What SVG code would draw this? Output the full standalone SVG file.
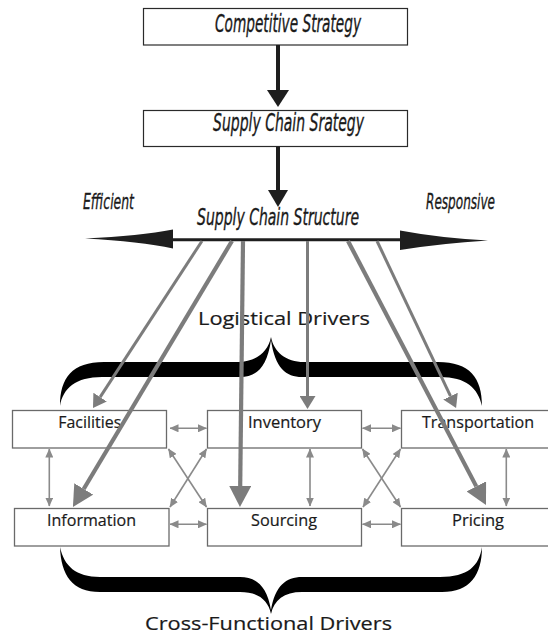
<svg xmlns="http://www.w3.org/2000/svg" width="548" height="636" viewBox="0 0 548 636">
  <defs>
    <style>
      .top-box { fill: #fff; stroke: #2a2a2a; stroke-width: 1.2; }
      .box { fill: #fff; stroke: #6a6a6a; stroke-width: 1.3; }
      .title { font-family: "Liberation Sans Narrow", "DejaVu Sans Condensed", Roboto, sans-serif; font-style: italic; font-stretch: condensed; fill: #1a1a1a; stroke: #1a1a1a; stroke-width: 0.35; }
      .label { font-family: "Open Sans", "Noto Sans", "Liberation Sans", sans-serif; fill: #1a1a1a; stroke: #1a1a1a; stroke-width: 0.2; }
      .driver { stroke: #7c7c7c; fill: none; }
      .thin { stroke-width: 3; }
      .thick { stroke-width: 4.2; }
      .link { stroke: #8a8a8a; stroke-width: 1.6; fill: none; marker-start: url(#tip); marker-end: url(#tip); }
      .brace { fill: #000; }
    </style>
    <marker id="headSmall" markerUnits="userSpaceOnUse" viewBox="0 0 13 16" refX="0" refY="8" markerWidth="13" markerHeight="16" orient="auto">
      <path d="M0,0 L13,8 L0,16 Z" fill="#7c7c7c"/>
    </marker>
    <marker id="headBig" markerUnits="userSpaceOnUse" viewBox="0 0 21 22" refX="0" refY="11" markerWidth="21" markerHeight="22" orient="auto">
      <path d="M0,0 L21,11 L0,22 Z" fill="#7c7c7c"/>
    </marker>
    <marker id="tip" markerUnits="userSpaceOnUse" viewBox="0 0 9 8" refX="8.5" refY="4" markerWidth="9" markerHeight="8" orient="auto-start-reverse">
      <path d="M0,0 L9,4 L0,8 Z" fill="#8a8a8a"/>
    </marker>
  </defs>

  <rect width="548" height="636" fill="#fff"/>

  <!-- strategy chain -->
  <g id="competitive-strategy">
    <rect class="top-box" x="143.5" y="8.5" width="264" height="36.5"/>
    <text class="title" x="215" y="32.3" font-size="24" textLength="146" lengthAdjust="spacingAndGlyphs">Competitive Strategy</text>
  </g>
  <g id="supply-chain-strategy">
    <rect class="top-box" x="143.5" y="110.5" width="264" height="36"/>
    <text class="title" x="213" y="130.5" font-size="24" textLength="151" lengthAdjust="spacingAndGlyphs">Supply Chain Srategy</text>
  </g>
  <g id="supply-chain-structure">
    <text class="title" x="197" y="224.5" font-size="23" textLength="162" lengthAdjust="spacingAndGlyphs">Supply Chain Structure</text>
    <text class="title" x="83" y="209" font-size="22" textLength="51" lengthAdjust="spacingAndGlyphs">Efficient</text>
    <text class="title" x="426" y="208.5" font-size="22" textLength="69" lengthAdjust="spacingAndGlyphs">Responsive</text>
  </g>

  <!-- braces and group captions -->
  <g id="logistical-drivers">
    <path class="brace" d="M60,406 C60,378 72,362 104,362 L238,362 C256,362 268,352 271,337 C274,352 286,362 304,362 L438,362 C470,362 482,378 482,406 C478,388 466,377 440,377 L302,377 C286,377 275,368 271,340 C267,368 256,377 240,377 L102,377 C76,377 63,388 60,406 Z"/>
    <text class="label" x="198" y="325" font-size="19" textLength="172" lengthAdjust="spacingAndGlyphs">Logistical Drivers</text>
  </g>
  <g id="cross-functional-drivers">
    <path class="brace" d="M60,547 C61,575 72,592 100,592 L240,592 C258,592 268,600 271,614 C274,600 284,592 302,592 L442,592 C470,592 482,575 482,547 C479,566 468,577 440,577 L302,577 C286,577 275,586 271,610 C267,586 256,577 240,577 L100,577 C76,577 64,566 60,547 Z"/>
    <text class="label" x="145" y="629.5" font-size="19" textLength="247" lengthAdjust="spacingAndGlyphs">Cross-Functional Drivers</text>
  </g>

  <!-- driver boxes -->
  <g id="facilities">
    <rect class="box" x="12.5" y="410.5" width="154" height="37.5"/>
    <text class="label" x="58.3" y="427.7" font-size="16.5" textLength="63" lengthAdjust="spacingAndGlyphs">Facilities</text>
  </g>
  <g id="inventory">
    <rect class="box" x="207.5" y="410.5" width="154" height="37.5"/>
    <text class="label" x="248" y="427.7" font-size="16.5" textLength="73" lengthAdjust="spacingAndGlyphs">Inventory</text>
  </g>
  <g id="transportation">
    <rect class="box" x="401.5" y="410.5" width="156" height="37.5"/>
    <text class="label" x="422" y="427.7" font-size="16.5" textLength="112" lengthAdjust="spacingAndGlyphs">Transportation</text>
  </g>
  <g id="information">
    <rect class="box" x="14.5" y="508.5" width="154.5" height="37.5"/>
    <text class="label" x="47" y="526" font-size="16.5" textLength="89" lengthAdjust="spacingAndGlyphs">Information</text>
  </g>
  <g id="sourcing">
    <rect class="box" x="207.5" y="508.5" width="154" height="37.5"/>
    <text class="label" x="251" y="526" font-size="16.5" textLength="66" lengthAdjust="spacingAndGlyphs">Sourcing</text>
  </g>
  <g id="pricing">
    <rect class="box" x="401.5" y="508.5" width="156" height="37.5"/>
    <text class="label" x="452" y="526" font-size="16.5" textLength="52" lengthAdjust="spacingAndGlyphs">Pricing</text>
  </g>

  <g id="connectors">
    <!-- strategy flow -->
    <line x1="278" y1="45" x2="278" y2="91" stroke="#1e1e1e" stroke-width="4"/>
    <polygon points="267,90 289,90 278,107" fill="#1e1e1e"/>
    <line x1="278" y1="146.5" x2="278" y2="191" stroke="#1e1e1e" stroke-width="4"/>
    <polygon points="268,190 288,190 278,207" fill="#1e1e1e"/>

    <!-- efficient / responsive spectrum -->
    <line x1="170" y1="239.7" x2="403" y2="239.7" stroke="#1e1e1e" stroke-width="3"/>
    <path d="M85,238.5 Q140,236 173,229.5 L173,248.5 Q140,241.5 85,238.5 Z" fill="#1e1e1e"/>
    <path d="M488,240.5 Q440,238 400,230.5 L400,250 Q440,243.5 488,240.5 Z" fill="#1e1e1e"/>

    <!-- structure to drivers -->
    <line class="driver thin" x1="202" y1="241" x2="100.1" y2="397.1" marker-end="url(#headSmall)"/>
    <line class="driver thick" x1="232" y1="241" x2="83.7" y2="489" marker-end="url(#headBig)"/>
    <line class="driver thick" x1="243" y1="241" x2="240.2" y2="486" marker-end="url(#headBig)"/>
    <line class="driver thin" x1="307.5" y1="241" x2="307.5" y2="396" marker-end="url(#headSmall)"/>
    <line class="driver thick" x1="348" y1="241" x2="476.3" y2="486.4" marker-end="url(#headBig)"/>
    <line class="driver thin" x1="377" y1="241" x2="450.5" y2="396.2" marker-end="url(#headSmall)"/>

    <!-- links between drivers -->
    <line class="link" x1="170" y1="428.3" x2="206.5" y2="428.3"/>
    <line class="link" x1="170" y1="524.3" x2="206.5" y2="524.3"/>
    <line class="link" x1="362.5" y1="428.3" x2="400.5" y2="428.3"/>
    <line class="link" x1="362.5" y1="524.3" x2="400.5" y2="524.3"/>
    <line class="link" x1="49.3" y1="449" x2="49.3" y2="506"/>
    <line class="link" x1="310" y1="449" x2="310" y2="506"/>
    <line class="link" x1="506.3" y1="449" x2="506.3" y2="506"/>
    <line class="link" x1="168.5" y1="449" x2="206.5" y2="507"/>
    <line class="link" x1="206.5" y1="449" x2="170" y2="507"/>
    <line class="link" x1="362.5" y1="449" x2="400.5" y2="507"/>
    <line class="link" x1="400.5" y1="449" x2="363" y2="507"/>
  </g>
</svg>
